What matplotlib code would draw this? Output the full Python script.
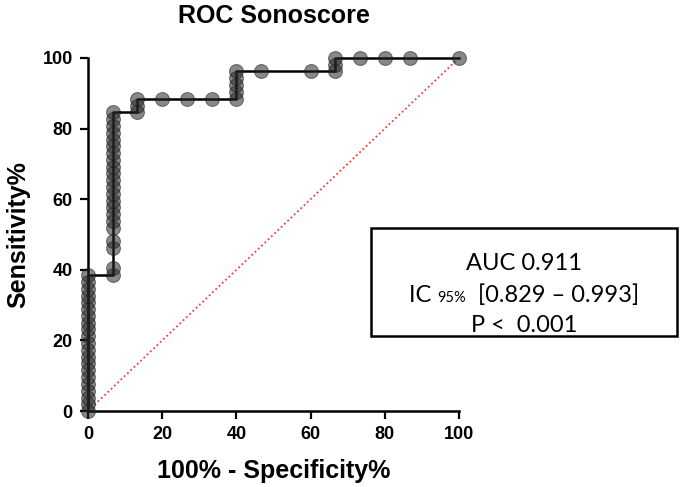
import matplotlib
matplotlib.use('Agg')
import matplotlib.pyplot as plt

plt.rcParams['font.family'] = ['Liberation Sans', 'DejaVu Sans']

# ROC points (100% - specificity, sensitivity), in threshold order
fpr = [0] * 21 + [6.67] * 22 + [13.33] * 3 + [20, 26.67, 33.33] \
      + [40] * 5 + [46.67, 60] + [66.67] * 3 + [73.33, 80, 86.67, 100]
tpr = [0, 1.9, 3.8, 5.8, 7.7, 9.6, 11.5, 13.5, 15.4, 17.3, 19.2, 21.2, 23.1,
       25.0, 26.9, 28.8, 30.8, 32.7, 34.6, 36.5, 38.5,
       38.5, 40.4, 46.2, 48.1, 51.9, 53.8, 55.8, 57.7, 59.6, 61.5, 63.5, 65.4,
       67.3, 69.2, 71.2, 73.1, 75.0, 76.9, 78.8, 80.8, 82.7, 84.6,
       84.6, 86.5, 88.5,
       88.5, 88.5, 88.5,
       88.5, 90.4, 92.3, 94.2, 96.2,
       96.2, 96.2,
       96.2, 98.1, 100,
       100, 100, 100, 100]

ticks = [0, 20, 40, 60, 80, 100]
auc_text = 'AUC 0.911'
ci_label, ci_sub, ci_text = 'IC ', '95%', '  [0.829 – 0.993]'
p_text = 'P <  0.001'

fig = plt.figure(figsize=(6.85, 4.87), dpi=100)
ax = fig.add_axes([0.1285, 0.156, 0.5416, 0.725])

ax.plot([0, 100], [0, 100], color='#e8443a', linestyle=(0, (1, 1.5)),
        linewidth=1.3, zorder=1)
ax.plot(fpr, tpr, color='black', linewidth=1.8, zorder=3, clip_on=False)
ax.plot(fpr, tpr, linestyle='none', marker='o', markersize=10,
        markerfacecolor=(0.15, 0.15, 0.15, 0.55), markeredgecolor=(0.1, 0.1, 0.1, 0.5),
        markeredgewidth=0.8, zorder=4, clip_on=False)

ax.set_xlim(0, 100)
ax.set_ylim(0, 100)
ax.set_xticks(ticks)
ax.set_yticks(ticks)
for spine in ['top', 'right']:
    ax.spines[spine].set_visible(False)
for spine in ['left', 'bottom']:
    ax.spines[spine].set_linewidth(1.8)
ax.tick_params(direction='out', length=6, width=1.6, labelsize=13, pad=5)
for lab in ax.get_xticklabels() + ax.get_yticklabels():
    lab.set_fontweight('bold')

ax.set_title('ROC Sonoscore', fontsize=18, fontweight='bold', pad=25)
ax.set_xlabel('100% - Specificity%', fontsize=18, fontweight='bold', labelpad=11)
ax.set_ylabel('Sensitivity%', fontsize=18, fontweight='bold', labelpad=9)

# stats box
box = plt.Rectangle((371 / 685, 1 - 336 / 487), 306 / 685, 108 / 487,
                    transform=fig.transFigure, fill=False, edgecolor='black',
                    linewidth=1.8)
fig.patches.append(box)
cx = 524 / 685
fs = 17
fam = ['Lato', 'DejaVu Sans']
fig.text(cx, 1 - 263 / 487, auc_text, ha='center', va='center', fontsize=fs, family=fam)
fig.text(cx, 1 - 326 / 487, p_text, ha='center', va='center', fontsize=fs, family=fam)

renderer = fig.canvas.get_renderer()
y2 = 1 - 302 / 487
parts = [(ci_label, fs), (ci_sub, 10.5), (ci_text, fs)]
texts = [fig.text(0, y2, s, ha='left', va='baseline', fontsize=f, family=fam) for s, f in parts]
widths = [t.get_window_extent(renderer).width / fig.bbox.width for t in texts]
x0 = cx - sum(widths) / 2
for t, w in zip(texts, widths):
    t.set_x(x0)
    x0 += w

fig.savefig('out.png', dpi=100)
